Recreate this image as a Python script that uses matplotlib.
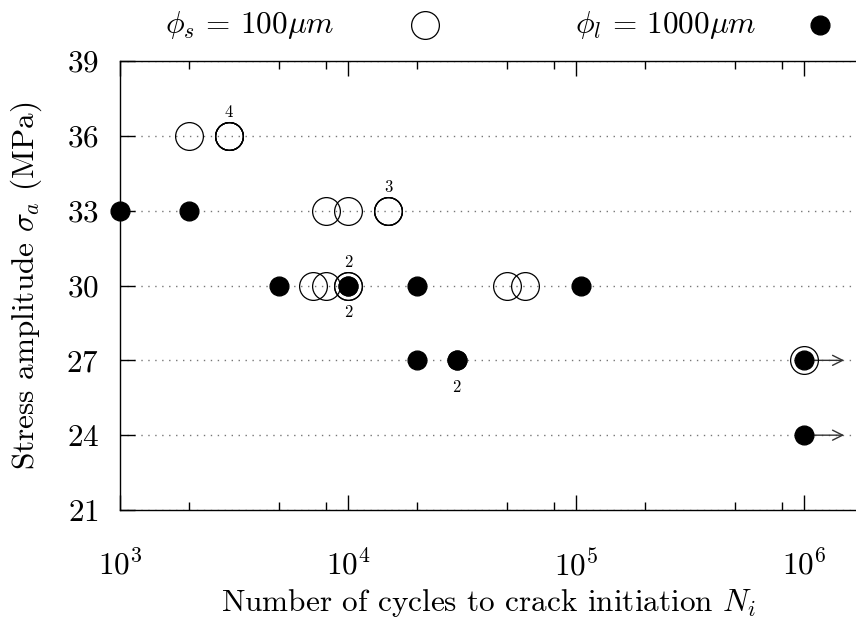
import numpy as np
import matplotlib
matplotlib.use("Agg")
import matplotlib.pyplot as plt
from matplotlib.lines import Line2D
from matplotlib.ticker import FixedLocator, LogLocator, NullFormatter

plt.rcParams['font.family'] = 'serif'
plt.rcParams['font.serif'] = ['cmr10']
plt.rcParams['mathtext.fontset'] = 'cm'
plt.rcParams['axes.formatter.use_mathtext'] = True
plt.rcParams['axes.unicode_minus'] = False

# small specimens (phi_s = 100 um), open circles
small_cycles = [2e3, 3e3, 8e3, 1e4, 1.5e4, 7e3, 8e3, 1e4, 5e4, 6e4, 1e6]
small_stress = [36, 36, 33, 33, 33, 30, 30, 30, 30, 30, 27]
small_count = [1, 4, 1, 1, 3, 1, 1, 2, 1, 1, 1]

# large specimens (phi_l = 1000 um), filled circles
large_cycles = [1e3, 2e3, 5e3, 1e4, 2e4, 1.05e5, 2e4, 3e4, 1e6, 1e6]
large_stress = [33, 33, 30, 30, 30, 30, 27, 27, 27, 24]
large_count = [1, 1, 1, 2, 1, 1, 1, 2, 1, 1]

runout_limit = 1e6
runout_arrow_end = 1.5e6

y_ticks = [21, 24, 27, 30, 33, 36, 39]

fs = 22.5

fig = plt.figure(figsize=(8.56, 6.24), dpi=100)
# axis runs past the right edge of the picture
ax = fig.add_axes([120/856, 1 - 510/624, (872.6 - 120)/856, (510 - 61)/624])
ax.set_xscale('log')
ax.set_xlim(1e3, 2e6)
ax.set_ylim(21, 39)

ax.yaxis.set_major_locator(FixedLocator(y_ticks))
ax.yaxis.grid(True, linestyle=(0, (1, 4)), color='#777777', linewidth=1.0)
ax.set_axisbelow(True)

ax.xaxis.set_major_locator(LogLocator(base=10, numticks=10))
ax.xaxis.set_minor_locator(LogLocator(base=10, subs=[2, 5, 8], numticks=10))
ax.xaxis.set_minor_formatter(NullFormatter())

ax.tick_params(which='both', direction='in', top=True, right=True, labelsize=fs)
ax.tick_params(which='major', length=10.5, width=1.0)
ax.tick_params(which='minor', length=5.5, width=1.0)
ax.tick_params(axis='x', which='major', pad=28)
ax.tick_params(axis='y', which='major', pad=15)
for sp in ax.spines.values():
    sp.set_linewidth(1.0)

# runout arrows
runouts = set()
for c, s in zip(small_cycles + large_cycles, small_stress + large_stress):
    if c >= runout_limit:
        runouts.add((c, s))
for c, s in sorted(runouts):
    ax.annotate('', xy=(runout_arrow_end, s), xytext=(c, s),
                arrowprops=dict(arrowstyle='->', lw=1.0, color='#333333',
                                shrinkA=0, shrinkB=0, mutation_scale=18),
                zorder=2)

# markers, repeated as many times as the specimen count
ax.plot(np.repeat(small_cycles, small_count), np.repeat(small_stress, small_count),
        'o', ms=20, mfc='none', mec='black', mew=0.9, clip_on=False, zorder=3)
ax.plot(np.repeat(large_cycles, large_count), np.repeat(large_stress, large_count),
        'o', ms=13.5, mfc='black', mec='black', mew=1.0, clip_on=False, zorder=4)

# counts: open above, filled below
for c, s, n in zip(small_cycles, small_stress, small_count):
    if n > 1:
        ax.annotate(str(n), (c, s), xytext=(0, 17), textcoords='offset points',
                    ha='center', va='center', fontsize=12)
for c, s, n in zip(large_cycles, large_stress, large_count):
    if n > 1:
        ax.annotate(str(n), (c, s), xytext=(0, -19.5), textcoords='offset points',
                    ha='center', va='center', fontsize=12)

ax.set_xlabel(r'Number of cycles to crack initiation $N_i$', fontsize=fs)
ax.set_ylabel(r'Stress amplitude $\sigma_a$ (MPa)', fontsize=fs, labelpad=16)
ax.xaxis.set_label_coords(0.49, -0.172)

# key at the top
fig.text(165/856, 1 - 25/624, r'$\phi_s\,=\,100\mu m$', fontsize=fs, ha='left', va='center')
fig.text(575/856, 1 - 25/624, r'$\phi_l\,=\,1000\mu m$', fontsize=fs, ha='left', va='center')
fig.add_artist(Line2D([425/856], [1 - 25/624], marker='o', ms=20, mfc='none',
                      mec='black', mew=0.9, transform=fig.transFigure))
fig.add_artist(Line2D([820/856], [1 - 25/624], marker='o', ms=13.5, mfc='black',
                      mec='black', transform=fig.transFigure))

fig.savefig('out.png', dpi=100)
